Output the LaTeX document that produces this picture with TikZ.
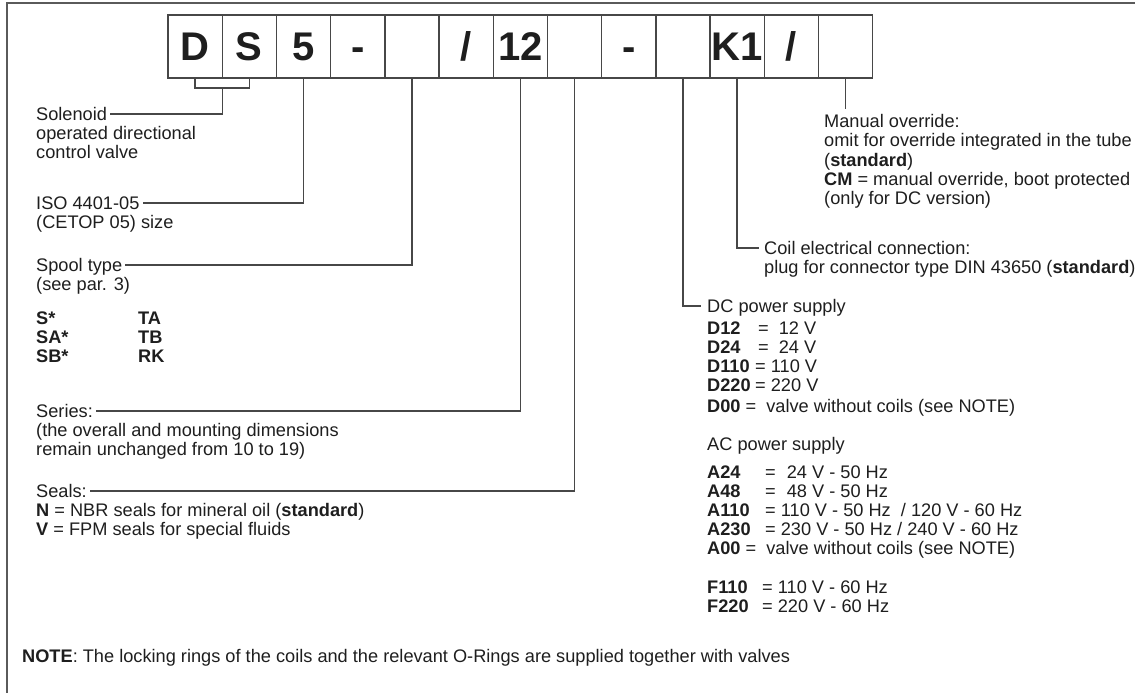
\documentclass[tikz,border=0pt]{standalone}
\usepackage{fontspec}
\setmainfont{Liberation Sans}
\usepackage{tikz}
\definecolor{ink}{HTML}{1E1E1E}
\definecolor{rulegray}{HTML}{5A5A5A}
\definecolor{boxgray}{HTML}{474747}
\newcommand{\bodyfont}{\fontsize{18.2}{19.5}\selectfont}
\newcommand{\codebox}[2]{\makebox[#1][l]{\textbf{#2}}}
\tikzstyle{cell} = [draw = boxgray, line width = 1.4pt, minimum width = 54.2pt, minimum height = 63pt, inner sep = 0, text = ink, text height = 28.6pt, text depth = 0pt, font = \fontsize{40}{42}\selectfont\bfseries]
\tikzstyle{lbl} = [draw = none, inner sep = 0, anchor = base west, text height = 14pt, text depth = 1pt, text = ink, font = \bodyfont]
\tikzstyle{conn} = [-, draw = boxgray, line width = 1.4pt]

\begin{document}
\begin{tikzpicture}[x = 1pt, y = -1pt]
\useasboundingbox (0, 0) rectangle (1135, 693);
\draw [draw = rulegray, line width = 2pt] (1135, 3) -- (7, 3) -- (7, 693);

\node [cell] (b1) at (195.1, 46.5) {D};
\node [cell] (b2) at (249.3, 46.5) {S};
\node [cell] (b3) at (303.5, 46.5) {5};
\node [cell] (b4) at (357.7, 46.5) {-};
\node [cell] (b5) at (411.9, 46.5) {};
\node [cell] (b6) at (466.1, 46.5) {/};
\node [cell] (b7) at (520.3, 46.5) {12};
\node [cell] (b8) at (574.5, 46.5) {};
\node [cell] (b9) at (628.7, 46.5) {-};
\node [cell] (b10) at (682.9, 46.5) {};
\node [cell] (b11) at (737.1, 46.5) {K1};
\node [cell] (b12) at (791.3, 46.5) {/};
\node [cell] (b13) at (845.5, 46.5) {};

\node [lbl] (sol) at (36, 120.5) {Solenoid};
\node [lbl] (sol2) at (36, 139.5) {operated directional};
\node [lbl] (sol3) at (36, 158.5) {control valve};
\node [lbl] (iso) at (36, 209.5) {ISO 4401-05};
\node [lbl] (iso2) at (36, 228.5) {(CETOP 05) size};
\node [lbl] (spool) at (36, 271.5) {Spool type};
\node [lbl] (spool2) at (36, 290.5) {(see par. 3)};
\node [lbl] (sp1) at (36, 324.5) {\textbf{S*}};
\node [lbl] (sp2) at (36, 343.5) {\textbf{SA*}};
\node [lbl] (sp3) at (36, 362.5) {\textbf{SB*}};
\node [lbl] (sp4) at (138, 324.5) {\textbf{TA}};
\node [lbl] (sp5) at (138, 343.5) {\textbf{TB}};
\node [lbl] (sp6) at (138, 362.5) {\textbf{RK}};
\node [lbl] (series) at (36, 417.5) {Series:};
\node [lbl] (series2) at (36, 436.5) {(the overall and mounting dimensions};
\node [lbl] (series3) at (36, 455.5) {remain unchanged from 10 to 19)};
\node [lbl] (seals) at (36, 497.5) {Seals:};
\node [lbl] (seals2) at (36, 516.5) {\textbf{N} = NBR seals for mineral oil (\textbf{standard})};
\node [lbl] (seals3) at (36, 535.5) {\textbf{V} = FPM seals for special fluids};

\node [lbl] (manual) at (824, 127.5) {Manual override:};
\node [lbl] (manual2) at (824, 146.5) {omit for override integrated in the tube};
\node [lbl] (manual3) at (824, 166.5) {(\textbf{standard})};
\node [lbl] (manual4) at (824, 185.5) {\textbf{CM} = manual override, boot protected};
\node [lbl] (manual5) at (824, 204.5) {(only for DC version)};
\node [lbl] (coil) at (764, 254.5) {Coil electrical connection:};
\node [lbl] (coil2) at (764, 273.5) {plug for connector type DIN 43650 (\textbf{standard})};

\node [lbl] (dc) at (707, 312.5) {DC power supply};
\node [lbl] (d12) at (707, 334.5) {\codebox{51pt}{D12}=\hspace{10pt}12 V};
\node [lbl] (d24) at (707, 353.5) {\codebox{51pt}{D24}=\hspace{10pt}24 V};
\node [lbl] (d110) at (707, 372.5) {\codebox{48pt}{D110}= 110 V};
\node [lbl] (d220) at (707, 391.5) {\codebox{48pt}{D220}= 220 V};
\node [lbl] (d00) at (707, 412.5) {\textbf{D00} =\ \ valve without coils (see NOTE)};
\node [lbl] (ac) at (707, 450.5) {AC power supply};
\node [lbl] (a24) at (707, 478.5) {\codebox{58pt}{A24}=\hspace{11pt}24 V - 50 Hz};
\node [lbl] (a48) at (707, 497.5) {\codebox{58pt}{A48}=\hspace{11pt}48 V - 50 Hz};
\node [lbl] (a110) at (707, 516.5) {\codebox{58pt}{A110}= 110 V - 50 Hz\ \ / 120 V - 60 Hz};
\node [lbl] (a230) at (707, 535.5) {\codebox{58pt}{A230}= 230 V - 50 Hz / 240 V - 60 Hz};
\node [lbl] (a00) at (707, 554.5) {\textbf{A00} =\ \ valve without coils (see NOTE)};
\node [lbl] (f110) at (707, 593.5) {\codebox{55pt}{F110}= 110 V - 60 Hz};
\node [lbl] (f220) at (707, 612.5) {\codebox{55pt}{F220}= 220 V - 60 Hz};

\node [lbl] (note) at (22, 662.5) {\textbf{NOTE}: The locking rings of the coils and the relevant O-Rings are supplied together with valves};

\coordinate (ds) at (222.2, 88);
\draw [conn] (b1.south) |- (ds) -| (b2.south);
\draw [conn] (ds) |- ([xshift = 3pt] sol.east);
\draw [conn] (b3.south) |- ([xshift = 3pt] iso.east);
\draw [conn] (b5.south) |- ([xshift = 3pt] spool.east);
\draw [conn] (b7.south) |- ([xshift = 3pt] series.east);
\draw [conn] (b8.south) |- ([xshift = 3pt] seals.east);
\draw [conn] (b10.south) |- ([xshift = -6pt] dc.west);
\draw [conn] (b11.south) |- ([xshift = -5pt] coil.west);
\draw [conn] (b13.south) -- ([yshift = 4pt] b13.south |- manual.north);
\end{tikzpicture}
\end{document}
